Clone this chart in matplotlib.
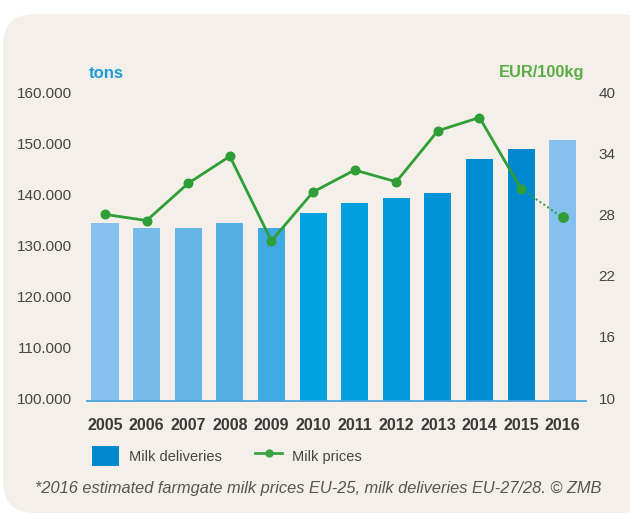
import matplotlib
matplotlib.use('Agg')
import matplotlib.pyplot as plt
from matplotlib.patches import FancyBboxPatch, Patch
from matplotlib.lines import Line2D

plt.rcParams['font.family'] = ['Liberation Sans', 'DejaVu Sans']

# data
years = ['2005', '2006', '2007', '2008', '2009', '2010',
         '2011', '2012', '2013', '2014', '2015', '2016']
deliveries = [134300, 133300, 133300, 134300, 133300, 136300,
              138200, 139200, 140200, 146900, 148800, 150600]
prices = [28.0, 27.4, 31.05, 33.7, 25.4, 30.2,
          32.35, 31.2, 36.2, 37.5, 30.5, 27.7]
bar_colors = ['#85c1ec', '#77bbe8', '#66b5e7', '#55aee6', '#3fa9e2', '#00a3df',
              '#009fdd', '#009ada', '#0092d6', '#008dd3', '#0088cf', '#85c1ec']
left_ticks = [100000, 110000, 120000, 130000, 140000, 150000, 160000]
left_labels = ['100.000', '110.000', '120.000', '130.000', '140.000', '150.000', '160.000']
right_ticks = [10, 16, 22, 28, 34, 40]

bg = '#f4f0e9'
green = '#2f9e36'
txt = '#454545'

fig = plt.figure(figsize=(6.3, 5.15), dpi=100)
fig.patch.set_facecolor('white')

# beige rounded panel
panel = FancyBboxPatch((0.03, 0.02), 6.5, 4.99,
                       boxstyle='round,pad=0,rounding_size=0.32',
                       transform=fig.dpi_scale_trans,
                       facecolor=bg, edgecolor='none', zorder=-10)
fig.patches.append(panel)

ax = fig.add_axes([87/630, 1-401/515, (586-87)/630, (401-92)/515])
ax.set_facecolor('none')
x = list(range(len(years)))
ax.bar(x, deliveries, width=0.65, color=bar_colors, zorder=2)
ax.set_xlim(-0.433, 11.56)
ax.set_ylim(99412, 160000)
ax.set_yticks(left_ticks)
ax.set_yticklabels(left_labels)
ax.set_xticks(x)
ax.set_xticklabels(years, fontweight='bold', fontsize=11.5, color='#3a3a3a')
ax.tick_params(axis='x', length=0, pad=12)
ax.tick_params(axis='y', length=0, pad=11, labelsize=11, labelcolor=txt)
for s in ['top', 'left', 'right']:
    ax.spines[s].set_visible(False)
ax.spines['bottom'].set_color('#4aa3dc')
ax.spines['bottom'].set_linewidth(1.3)
ax.spines['bottom'].set_zorder(3)

ax2 = ax.twinx()
ax2.set_ylim(9.706, 40)
ax2.set_yticks(right_ticks)
ax2.tick_params(axis='y', length=0, pad=9, labelsize=11, labelcolor=txt)
for s in ax2.spines.values():
    s.set_visible(False)
ax2.plot(x[:11], prices[:11], color=green, lw=2.0, marker='o', ms=6.2, zorder=4)
ax2.plot(x[10:], prices[10:], color=green, lw=1.6, linestyle=(0, (0.1, 2.0)),
         dash_capstyle='round', zorder=4)
ax2.plot(x[11:], prices[11:], color=green, marker='o', ms=6.8, lw=0, zorder=4)

fig.text(89/630, 1-73/515, 'tons', color='#1a9ad6', fontweight='bold',
         fontsize=12, va='center', ha='left')
fig.text(584/630, 1-73/515, 'EUR/100kg', color='#5aac45', fontweight='bold',
         fontsize=11.8, va='center', ha='right')

handles = [Patch(facecolor='#0088cf', edgecolor='none', label='Milk deliveries'),
           Line2D([], [], color='#3aa540', lw=2, marker='o', ms=5, label='Milk prices')]
fig.legend(handles=handles, loc='center left', bbox_to_anchor=(92/630, 1-456/515),
           ncol=2, frameon=False, fontsize=10.5, labelcolor=txt,
           handlelength=1.85, handleheight=1.75, handletextpad=0.66,
           columnspacing=2.3, borderpad=0, borderaxespad=0)

fig.text(35/630, 1-488/515,
         '*2016 estimated farmgate milk prices EU-25, milk deliveries EU-27/28. \u00a9 ZMB',
         style='italic', color='#555555', fontsize=11.8, va='center', ha='left')

fig.savefig('out.png', dpi=100, facecolor='white')
